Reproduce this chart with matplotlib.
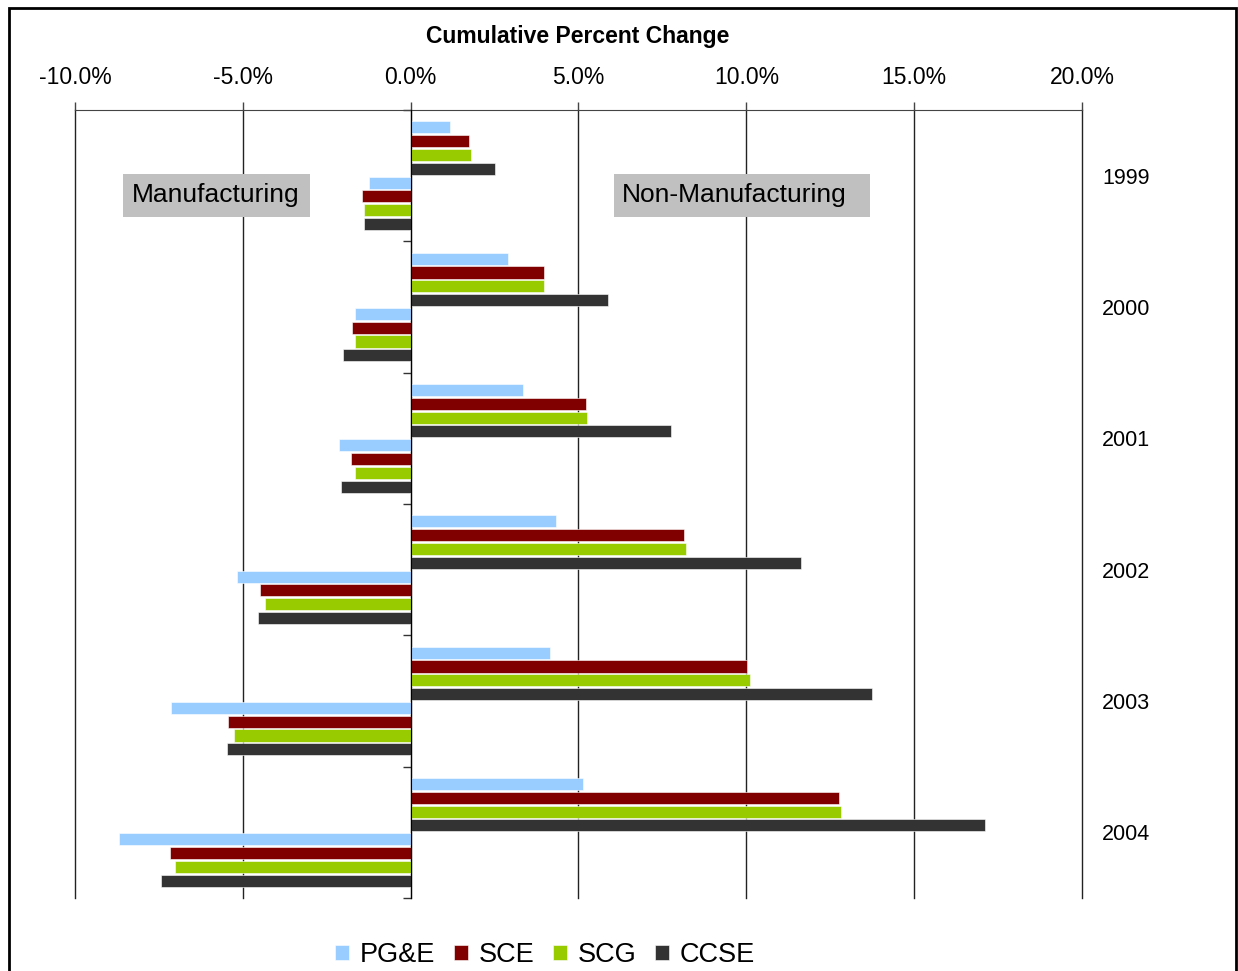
import numpy as np
import matplotlib
matplotlib.use('Agg')
import matplotlib.pyplot as plt
from matplotlib.patches import Rectangle

plt.rcParams['font.family'] = ['Liberation Sans', 'DejaVu Sans']

# data (cumulative percent change)
years = ['1999', '2000', '2001', '2002', '2003', '2004']
series = ['PG&E', 'SCE', 'SCG', 'CCSE']
colors = ['#99CCFF', '#800000', '#99CC00', '#333333']

# non-manufacturing (positive side)
pge_non = [1.18, 2.89, 3.34, 4.32, 4.14, 5.14]
sce_non = [1.75, 3.98, 5.21, 8.13, 10.02, 12.77]
scg_non = [1.80, 3.98, 5.24, 8.19, 10.12, 12.82]
ccse_non = [2.52, 5.88, 7.75, 11.62, 13.74, 17.12]

# manufacturing (negative side)
pge_mfg = [-1.25, -1.67, -2.14, -5.17, -7.14, -8.68]
sce_mfg = [-1.46, -1.76, -1.79, -4.50, -5.43, -7.18]
scg_mfg = [-1.40, -1.67, -1.67, -4.35, -5.27, -7.03]
ccse_mfg = [-1.40, -2.03, -2.09, -4.55, -5.47, -7.43]

non_mfg = [pge_non, sce_non, scg_non, ccse_non]
mfg = [pge_mfg, sce_mfg, scg_mfg, ccse_mfg]

W, H = 1238, 971
fig = plt.figure(figsize=(W / 100, H / 100), dpi=100)
ax = fig.add_axes([75 / W, 1 - 898 / H, (1082 - 75) / W, (898 - 110) / H])

idx = np.arange(len(years))
slot = 0.105
bh = 0.092
start = -0.42
for k in range(4):
    y = idx + start + slot * (k + 0.5)
    ax.barh(y, non_mfg[k], height=bh, color=colors[k], edgecolor='white',
            linewidth=0.4, label=series[k], zorder=3)
for k in range(4):
    y = idx + start + slot * (k + 4.5)
    ax.barh(y, mfg[k], height=bh, color=colors[k], edgecolor='white',
            linewidth=0.4, zorder=3)

ax.set_xlim(-10, 20)
ax.set_ylim(len(years) - 0.5, -0.5)

# x axis on top
ax.xaxis.tick_top()
ax.set_xticks(np.arange(-10, 21, 5))
ax.set_xticklabels(['%.1f%%' % v for v in np.arange(-10, 21, 5)])
ax.tick_params(axis='x', which='major', top=True, bottom=False, direction='out',
               length=6, width=1, color='#444444', labelsize=16.5, pad=9)
ax.grid(axis='x', color='#222222', linewidth=1, zorder=0)
for gl in ax.get_xgridlines():
    gl.set_clip_on(False)
ax.set_axisbelow(True)

# category axis at zero, labels on right
ax.spines['left'].set_position(('data', 0))
ax.spines['left'].set_zorder(4)
ax.spines['right'].set_visible(False)
ax.spines['bottom'].set_visible(False)
ax.spines['top'].set_color('#444444')
ax.set_yticks(idx)
ax.set_yticklabels(years)
ax.set_yticks(np.arange(-0.5, len(years)), minor=True)
ax.tick_params(axis='y', which='major', left=False, right=False,
               labelleft=False, labelright=True, labelsize=15.5, pad=11)
ax.tick_params(axis='y', which='minor', left=True, right=False,
               direction='out', length=6, width=1, color='#333333')

fig.text(578 / W, 1 - 37 / H, 'Cumulative Percent Change', ha='center',
         va='center', fontsize=16.5, fontweight='bold')

# label boxes
for x0, x1, tx, label in [(123, 310, 132, 'Manufacturing'),
                          (614, 870, 622, 'Non-Manufacturing')]:
    fig.patches.append(Rectangle((x0 / W, 1 - 217 / H), (x1 - x0) / W, 43 / H,
                                 transform=fig.transFigure, facecolor='#C0C0C0',
                                 edgecolor='none', zorder=5))
    fig.text(tx / W, 1 - 195 / H, label, ha='left', va='center',
             fontsize=19, zorder=6)

fig.legend(loc='center', bbox_to_anchor=(545 / W, 1 - 955 / H), ncol=4,
           frameon=False, fontsize=19.5, handlelength=0.5, handleheight=0.5,
           handletextpad=0.4, columnspacing=0.7)

# outer border
fig.patches.append(Rectangle((9 / W, -0.05), (1236 - 9) / W, 1.05 - 8 / H,
                             transform=fig.transFigure, fill=False,
                             edgecolor='black', linewidth=2))

fig.savefig('out.png', dpi=100)
